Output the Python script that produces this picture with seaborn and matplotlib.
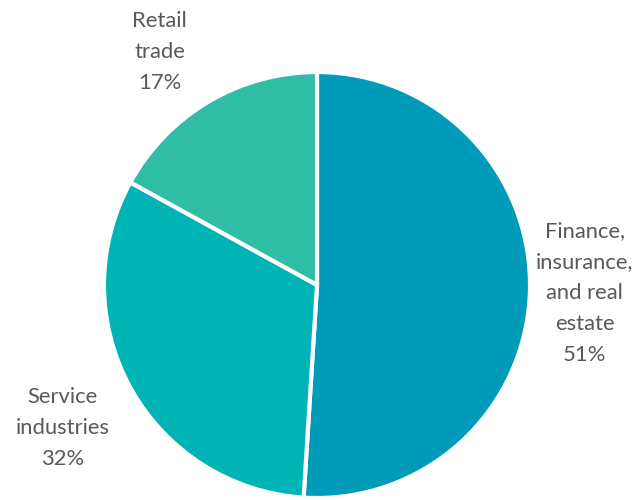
import matplotlib
matplotlib.use("Agg")
import matplotlib.pyplot as plt
import seaborn as sns

sectors = ["Finance,\ninsurance,\nand real\nestate", "Service\nindustries", "Retail\ntrade"]
shares = [51, 32, 17]
colors = ["#009BB9", "#00B4B6", "#2FBDA6"]
# label anchor points in figure fraction
label_x = [0.911, 0.097, 0.249]
label_y = [0.414, 0.144, 0.896]

sns.set_theme(style="white")
plt.rcParams["font.family"] = ["Lato", "DejaVu Sans"]

fig = plt.figure(figsize=(6.42, 5.0), dpi=100)
ax = fig.add_axes([104 / 642, 2 / 500, 426 / 642, 426 / 500])
ax.pie(shares, colors=colors, startangle=90, counterclock=False,
       wedgeprops=dict(edgecolor="white", linewidth=3), radius=1.0)
ax.set_xlim(-1.0, 1.0)
ax.set_ylim(-1.0, 1.0)
ax.set_aspect("equal")
ax.axis("off")

for name, val, x, y in zip(sectors, shares, label_x, label_y):
    fig.text(x, y, f"{name}\n{val}%", ha="center", va="center",
             fontsize=15.8, color="#595959", linespacing=1.68)

fig.savefig("out.png", dpi=100, facecolor="white")
